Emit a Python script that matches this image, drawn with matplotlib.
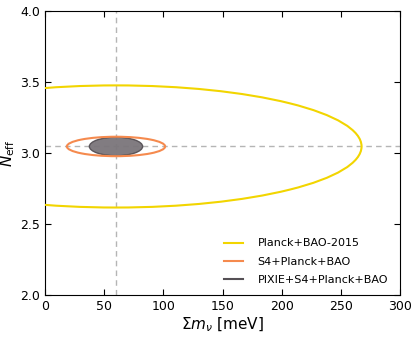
import matplotlib
matplotlib.use("Agg")
import matplotlib.pyplot as plt
from matplotlib.patches import Ellipse
from matplotlib.lines import Line2D

# Data
labels = ["Planck+BAO-2015", "S4+Planck+BAO", "PIXIE+S4+Planck+BAO"]
center_mnu = 60.0
center_neff = 3.046
widths = [415.0, 83.0, 45.0]       # full widths in meV
heights = [0.86, 0.137, 0.13]      # full heights in N_eff
colors = ["#f2d500", "#f58a4e", "#555055"]
filled = [False, False, True]
xticks = [0, 50, 100, 150, 200, 250, 300]
yticks = [2.0, 2.5, 3.0, 3.5, 4.0]

plt.rcParams['mathtext.fontset'] = 'dejavusans'
fig = plt.figure(figsize=(4.15, 3.39), dpi=100)
ax = fig.add_axes([0.1084, 0.1298, 0.8555, 0.8378])

ax.axvline(center_mnu, color="#b5b5b5", ls=(0, (4, 3)), lw=1.0, zorder=1)
ax.axhline(center_neff, color="#b5b5b5", ls=(0, (4, 3)), lw=1.0, zorder=1)

for lab, w, h, c, f in zip(labels, widths, heights, colors, filled):
    if f:
        e = Ellipse((center_mnu, center_neff), w, h, facecolor="#7a757a",
                    edgecolor=c, lw=1.0, alpha=0.95, zorder=2)
    else:
        e = Ellipse((center_mnu, center_neff), w, h, facecolor="none",
                    edgecolor=c, lw=1.5, zorder=3)
    ax.add_patch(e)

ax.set_xlim(0, 300)
ax.set_ylim(2.0, 4.0)
ax.set_xticks(xticks)
ax.set_yticks(yticks)
ax.set_xticklabels([str(t) for t in xticks])
ax.set_yticklabels([f"{t:.1f}" for t in yticks])
ax.tick_params(direction="in", top=True, right=True, labelsize=9, length=4)
ax.set_xlabel(r"$\Sigma m_\nu$ [meV]", fontsize=11, labelpad=2)
ax.set_ylabel(r"$N_{\rm eff}$", fontsize=11, labelpad=2)

handles = [Line2D([0], [0], color=c, lw=1.5) for c in colors]
ax.legend(handles, labels, loc="lower right", frameon=False, fontsize=8,
          handlelength=1.7, handletextpad=1.3, labelspacing=0.75,
          borderpad=0, borderaxespad=0, bbox_to_anchor=(0.966, 0.035))

fig.savefig("out.png", dpi=100)
